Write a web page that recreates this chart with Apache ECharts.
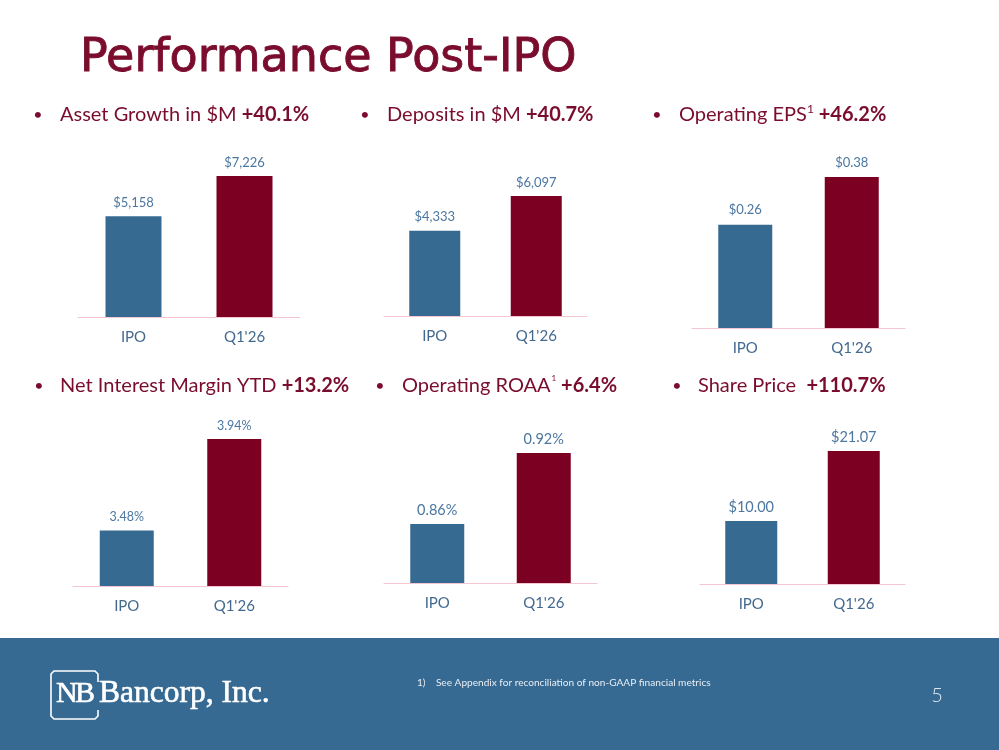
<!DOCTYPE html>
<html><head><meta charset="utf-8">
<script src="https://cdn.jsdelivr.net/npm/echarts@6/dist/echarts.min.js"></script>
<style>html,body{margin:0;padding:0;background:#fff}#c{width:999px;height:750px}</style>
</head><body><div id="c"></div>
<script>
// ---- data ----
const categories = ['IPO', "Q1'26"];
const assetGrowth = [5158, 7226];
const deposits = [4333, 6097];
const operatingEps = [0.26, 0.38];
const netInterestMargin = [3.48, 3.94];
const operatingRoaa = [0.86, 0.92];
const sharePrice = [10.00, 21.07];

const headingTexts = ['Asset Growth in $M ', 'Deposits in $M ', 'Operating EPS', 'Net Interest Margin YTD ', 'Operating ROAA', 'Share Price  '];
const headingChanges = ['+40.1%', '+40.7%', '+46.2%', '+13.2%', '+6.4%', '+110.7%'];

const titleText = 'Performance Post-IPO';
const footnoteText = '1)    See Appendix for reconciliation of non-GAAP financial metrics';
const pageNumber = '5';
const logoText = 'Bancorp, Inc.';

// ---- styles ----
const BLUE = '#376a91';
const RED = '#7c0022';
const TITLE_RED = '#7a0c2e';
const LABEL_BLUE = '#4b77a0';
const CAT_BLUE = '#43698f';
const AXIS_PINK = '#f3c6d2';
const FONT = 'Lato, "Open Sans", sans-serif';
const SERIF = '"Liberation Serif", "DejaVu Serif", serif';

const money0 = v => '$' + v.toLocaleString('en-US');
const money2 = v => '$' + v.toFixed(2);
const pct2 = v => v.toFixed(2) + '%';

const panels = [
  { data: assetGrowth, fmt: money0, grid: { left: 78, top: 176, width: 222, height: 141 }, barWidth: 56, min: 0, size: 13, dist: 7 },
  { data: deposits, fmt: money0, grid: { left: 384, top: 196, width: 203, height: 120 }, barWidth: 51, min: 0, size: 13, dist: 7 },
  { data: operatingEps, fmt: money2, grid: { left: 692, top: 177, width: 213, height: 151 }, barWidth: 54, min: 0, size: 13, dist: 8 },
  { data: netInterestMargin, fmt: pct2, grid: { left: 73, top: 439, width: 215, height: 147 }, barWidth: 54, min: 3.2, size: 12.5, dist: 7 },
  { data: operatingRoaa, fmt: pct2, grid: { left: 384, top: 453, width: 213, height: 130 }, barWidth: 54, min: 0.81, size: 14.5, dist: 6 },
  { data: sharePrice, fmt: money2, grid: { left: 700, top: 451, width: 205, height: 133 }, barWidth: 52, min: 0, size: 14.5, dist: 6 }
];

const headingPos = [
  { bx: 38, tx: 60, y: 115 },
  { bx: 365, tx: 387, y: 115 },
  { bx: 657, tx: 679, y: 115 },
  { bx: 39, tx: 60, y: 386 },
  { bx: 380, tx: 402, y: 386 },
  { bx: 677, tx: 698, y: 386 }
];

const grids = [], xAxes = [], yAxes = [], series = [];
panels.forEach((p, i) => {
  grids.push(Object.assign({ containLabel: false }, p.grid));
  xAxes.push({
    type: 'category', gridIndex: i, data: categories,
    axisLine: { lineStyle: { color: AXIS_PINK, width: 1 } },
    axisTick: { show: false },
    axisLabel: { color: CAT_BLUE, fontFamily: FONT, fontSize: 15, margin: 13 }
  });
  yAxes.push({
    type: 'value', gridIndex: i, min: p.min, max: 'dataMax', show: false,
    splitLine: { show: false }
  });
  series.push({
    type: 'bar', xAxisIndex: i, yAxisIndex: i, data: p.data, colorBy: 'data',
    barWidth: p.barWidth, animation: false,
    label: { show: true, position: 'top', distance: p.dist, color: LABEL_BLUE, fontFamily: FONT, fontSize: p.size,
      formatter: prm => p.fmt(prm.value) }
  });
});

const graphic = [];
graphic.push({ type: 'text', x: 80, y: 59, style: { text: titleText, fill: TITLE_RED, stroke: TITLE_RED, lineWidth: 0.9, font: '46px "DejaVu Sans", sans-serif', verticalAlign: 'middle', align: 'left' } });

headingPos.forEach((h, i) => {
  graphic.push({ type: 'text', x: h.bx, y: h.y, style: { text: '•', fill: TITLE_RED, font: '16px ' + FONT, align: 'center', verticalAlign: 'middle' } });
  let txt;
  if (i === 2) txt = '{n|' + headingTexts[i] + '}{sup|1}{b| ' + headingChanges[i] + '}';
  else if (i === 4) txt = '{n|' + headingTexts[i] + '}{sm|1}{b| ' + headingChanges[i] + '}';
  else txt = '{n|' + headingTexts[i] + '}{b|' + headingChanges[i] + '}';
  graphic.push({ type: 'text', x: h.tx, y: h.y, style: {
    text: txt, align: 'left', verticalAlign: 'middle',
    rich: {
      n: { fill: TITLE_RED, fontFamily: FONT, fontSize: 20, lineHeight: 24 },
      b: { fill: TITLE_RED, fontFamily: FONT, fontSize: 20, fontWeight: 'bold', lineHeight: 24 },
      sup: { fill: TITLE_RED, fontFamily: FONT, fontSize: 12, verticalAlign: 'top', lineHeight: 24, padding: [0, 0, 8, 0] },
      sm: { fill: TITLE_RED, fontFamily: FONT, fontSize: 8, verticalAlign: 'top', lineHeight: 24, padding: [0, 0, 4, 1] }
    }
  } });
});

// footer band
graphic.push({ type: 'rect', shape: { x: 0, y: 638, width: 999, height: 112 }, style: { fill: '#376a92' }, z: -1 });
// logo bracket
graphic.push({ type: 'polyline', shape: { points: [[98, 682], [98, 674], [95, 671], [54, 671], [51, 674], [51, 716], [54, 719], [95, 719], [98, 716], [98, 710]] }, style: { stroke: '#ffffff', lineWidth: 1.6, fill: null } });
graphic.push({ type: 'text', x: 56, y: 694, style: { text: 'N', fill: '#ffffff', stroke: '#ffffff', lineWidth: 0.6, font: '30px ' + SERIF, verticalAlign: 'middle' } });
graphic.push({ type: 'text', x: 75, y: 694, style: { text: 'B', fill: '#ffffff', stroke: '#ffffff', lineWidth: 0.6, font: '30px ' + SERIF, verticalAlign: 'middle' } });
graphic.push({ type: 'text', x: 99, y: 694, style: { text: logoText, fill: '#ffffff', stroke: '#ffffff', lineWidth: 0.6, font: '31.5px ' + SERIF, verticalAlign: 'middle' } });
graphic.push({ type: 'text', x: 417, y: 683, style: { text: footnoteText, fill: '#e8eef4', font: '10.1px ' + FONT, verticalAlign: 'middle' } });
graphic.push({ type: 'text', x: 937, y: 696, style: { text: pageNumber, fill: '#dfe8f0', font: '300 20px ' + FONT, align: 'center', verticalAlign: 'middle' } });

const chart = echarts.init(document.getElementById('c'), null, { renderer: 'canvas' });
chart.setOption({
  animation: false,
  backgroundColor: '#ffffff',
  color: [BLUE, RED],
  grid: grids, xAxis: xAxes, yAxis: yAxes, series: series,
  graphic: graphic
});
</script></body></html>
